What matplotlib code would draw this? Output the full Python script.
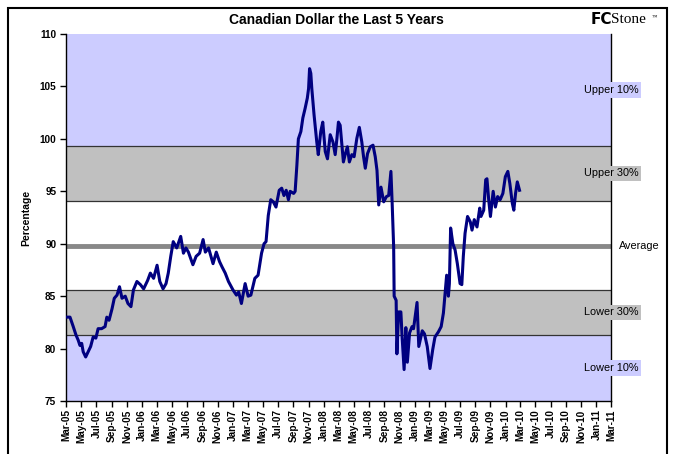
"""Canadian Dollar the Last 5 Years -- band chart with percentile zones."""

import matplotlib
matplotlib.use("Agg")
import matplotlib.pyplot as plt
import matplotlib.patches as patches
import matplotlib.dates as mdates
import pandas as pd

plt.rcParams["font.family"] = ["Liberation Sans", "DejaVu Sans"]

# ---- Data ----
DATES = [
    "2005-03-06", "2005-03-17", "2005-03-30", "2005-04-10", "2005-04-19", "2005-04-26",
    "2005-05-03", "2005-05-09", "2005-05-19", "2005-05-29", "2005-06-08", "2005-06-18",
    "2005-06-29", "2005-07-08", "2005-07-22", "2005-08-05", "2005-08-12", "2005-08-21",
    "2005-09-02", "2005-09-11", "2005-09-22", "2005-10-02", "2005-10-12", "2005-10-25",
    "2005-11-05", "2005-11-17", "2005-11-27", "2005-12-11", "2005-12-25", "2006-01-07",
    "2006-01-23", "2006-02-03", "2006-02-16", "2006-03-02", "2006-03-13", "2006-03-26",
    "2006-04-07", "2006-04-16", "2006-04-26", "2006-05-06", "2006-05-20", "2006-06-05",
    "2006-06-16", "2006-06-26", "2006-07-06", "2006-07-24", "2006-08-06", "2006-08-20",
    "2006-09-03", "2006-09-12", "2006-09-25", "2006-10-13", "2006-10-26", "2006-11-08",
    "2006-11-18", "2006-12-01", "2006-12-14", "2007-01-01", "2007-01-15", "2007-01-24",
    "2007-02-04", "2007-02-19", "2007-03-03", "2007-03-14", "2007-03-30", "2007-04-12",
    "2007-04-26", "2007-05-06", "2007-05-14", "2007-05-23", "2007-06-02", "2007-06-12",
    "2007-06-23", "2007-07-06", "2007-07-16", "2007-07-25", "2007-08-03", "2007-08-12",
    "2007-08-19", "2007-09-02", "2007-09-08", "2007-09-15", "2007-09-21", "2007-10-01",
    "2007-10-09", "2007-10-18", "2007-10-27", "2007-11-01", "2007-11-05", "2007-11-10",
    "2007-11-14", "2007-11-23", "2007-12-04", "2007-12-10", "2007-12-20", "2007-12-28",
    "2008-01-07", "2008-01-16", "2008-01-27", "2008-02-07", "2008-02-16", "2008-02-23",
    "2008-02-29", "2008-03-07", "2008-03-13", "2008-03-20", "2008-03-27", "2008-04-05",
    "2008-04-13", "2008-04-23", "2008-05-02", "2008-05-13", "2008-05-23", "2008-06-02",
    "2008-06-09", "2008-06-16", "2008-06-25", "2008-07-06", "2008-07-17", "2008-07-26",
    "2008-08-02", "2008-08-09", "2008-08-18", "2008-08-29", "2008-09-09", "2008-09-18",
    "2008-09-27", "2008-10-02", "2008-10-08", "2008-10-10", "2008-10-18", "2008-10-21",
    "2008-10-28", "2008-11-06", "2008-11-11", "2008-11-19", "2008-11-26", "2008-12-02",
    "2008-12-11", "2008-12-21", "2008-12-27", "2009-01-10", "2009-01-17", "2009-01-31",
    "2009-02-09", "2009-02-20", "2009-03-03", "2009-03-14", "2009-03-23", "2009-04-06",
    "2009-04-17", "2009-04-26", "2009-05-03", "2009-05-09", "2009-05-16", "2009-05-20",
    "2009-05-25", "2009-06-03", "2009-06-12", "2009-06-21", "2009-07-02", "2009-07-09",
    "2009-07-15", "2009-07-22", "2009-08-01", "2009-08-12", "2009-08-19", "2009-08-28",
    "2009-09-08", "2009-09-19", "2009-09-24", "2009-10-05", "2009-10-13", "2009-10-18",
    "2009-10-25", "2009-11-01", "2009-11-12", "2009-11-21", "2009-11-30", "2009-12-10",
    "2009-12-21", "2009-12-31", "2010-01-10", "2010-01-18", "2010-01-28", "2010-02-03",
    "2010-02-10", "2010-02-17", "2010-02-26",
]
CAD = [
    83.0, 83.0, 82.1, 81.3, 80.8, 80.3,
    80.5, 79.7, 79.2, 79.7, 80.2, 81.1,
    81.0, 81.9, 81.9, 82.1, 83.0, 82.7,
    83.8, 84.8, 85.1, 85.9, 84.8, 85.0,
    84.3, 84.0, 85.6, 86.4, 86.1, 85.7,
    86.5, 87.2, 86.7, 87.95, 86.4, 85.7,
    86.2, 87.2, 88.8, 90.2, 89.6, 90.7,
    89.1, 89.6, 89.2, 88.0, 88.8, 89.1,
    90.4, 89.2, 89.6, 88.1, 89.2, 88.3,
    87.8, 87.2, 86.4, 85.6, 85.1, 85.4,
    84.3, 86.2, 85.0, 85.1, 86.7, 87.0,
    89.1, 90.0, 90.2, 92.7, 94.2, 94.0,
    93.5, 95.1, 95.3, 94.6, 95.1, 94.2,
    95.0, 94.8, 95.0, 97.5, 100.0, 100.7,
    102.0, 102.9, 103.9, 104.8, 106.7, 106.25,
    104.8, 102.3, 99.7, 98.5, 100.7, 101.6,
    98.8, 98.1, 100.4, 99.7, 98.5, 100.05,
    101.6, 101.3, 99.7, 97.8, 98.5, 99.25,
    97.8, 98.5, 98.3, 100.05, 101.1, 99.7,
    98.3, 97.2, 98.6, 99.25, 99.4, 98.3,
    97.0, 93.7, 95.4, 94.0, 94.5, 94.6,
    96.9, 93.85, 89.7, 85.0, 84.6, 79.5,
    83.5, 83.5, 81.1, 78.0, 82.0, 78.7,
    81.5, 82.1, 81.9, 84.4, 80.2, 81.7,
    81.4, 80.2, 78.1, 79.9, 81.1, 81.6,
    82.1, 83.4, 85.3, 87.0, 85.0, 86.2,
    91.5, 90.0, 89.4, 88.1, 86.2, 86.1,
    88.8, 91.0, 92.6, 92.1, 91.3, 92.3,
    91.6, 93.4, 92.6, 93.2, 96.1, 96.2,
    94.2, 92.6, 95.0, 93.5, 94.5, 94.2,
    94.8, 96.4, 96.9, 95.75, 93.85, 93.2,
    94.8, 95.9, 95.1,
]

# Percentile zones (upper 10 / upper 30 / average / lower 30 / lower 10)
UPPER10 = 99.3
UPPER30 = 94.1
AVERAGE = 89.8
LOWER30 = 85.6
LOWER10 = 81.3
ZONE_LABELS = ["Upper 10%", "Upper 30%", "Lower 30%", "Lower 10%"]

COL_LAV = "#CCCCFF"
COL_GRAY = "#C0C0C0"
COL_LINE = "#000080"

Y_MIN, Y_MAX = 75, 110
X_START, X_END = "2005-03-01", "2011-03-01"


def main():
    dates = pd.to_datetime(DATES)

    fig = plt.figure(figsize=(6.73, 4.54), dpi=100)
    ax = fig.add_axes([0.0981, 0.1167, 0.8099, 0.8083])

    x0, x1 = pd.Timestamp(X_START), pd.Timestamp(X_END)
    ax.set_xlim(x0, x1)
    ax.set_ylim(Y_MIN, Y_MAX)

    # ---- zones ----
    ax.axhspan(UPPER10, Y_MAX, color=COL_LAV, lw=0, zorder=0)
    ax.axhspan(UPPER30, UPPER10, color=COL_GRAY, lw=0, zorder=0)
    ax.axhspan(LOWER30, UPPER30, color="white", lw=0, zorder=0)
    ax.axhspan(LOWER10, LOWER30, color=COL_GRAY, lw=0, zorder=0)
    ax.axhspan(Y_MIN, LOWER10, color=COL_LAV, lw=0, zorder=0)
    for yb in (UPPER10, UPPER30, LOWER30, LOWER10):
        ax.axhline(yb, color="#333333", lw=0.9, zorder=1)
    ax.axhline(AVERAGE, color="#888888", lw=3.5, zorder=1)

    # ---- series ----
    ax.plot(dates, CAD, color=COL_LINE, lw=2.2, zorder=3,
            solid_joinstyle="round")

    # ---- zone labels on the right edge ----
    label_y = [(UPPER10 + Y_MAX) / 2, (UPPER30 + UPPER10) / 2,
               (LOWER10 + LOWER30) / 2, (Y_MIN + LOWER10) / 2]
    label_bg = [COL_LAV, COL_GRAY, COL_GRAY, COL_LAV]
    trans = ax.get_yaxis_transform()
    for txt, yv, bg in zip(ZONE_LABELS, label_y, label_bg):
        ax.text(1.0, yv, txt, transform=trans, ha="center", va="center",
                fontsize=7.8, clip_on=False, zorder=5,
                bbox=dict(boxstyle="square,pad=0.25", fc=bg, ec="none"))
    ax.text(1.052, AVERAGE, "Average", transform=trans, ha="center",
            va="center", fontsize=7.8, clip_on=False, zorder=5)

    # ---- axes styling ----
    ax.spines["top"].set_visible(False)
    for side in ("left", "bottom", "right"):
        ax.spines[side].set_linewidth(1.0)
    ax.set_yticks(range(Y_MIN, Y_MAX + 1, 5))
    ax.tick_params(axis="y", direction="out", length=4, width=1,
                   labelsize=7.2, pad=3)
    for lab in ax.get_yticklabels():
        lab.set_fontweight("bold")

    ax.xaxis.set_major_locator(mdates.MonthLocator(bymonth=[1, 3, 5, 7, 9, 11]))
    ax.xaxis.set_major_formatter(mdates.DateFormatter("%b-%y"))
    ax.tick_params(axis="x", direction="out", length=4, width=1,
                   labelsize=7.2, pad=2, labelrotation=90)
    for lab in ax.get_xticklabels():
        lab.set_fontweight("bold")

    ax.set_ylabel("Percentage", fontsize=7.5, fontweight="bold", labelpad=6)

    # ---- title and logo ----
    fig.text(0.5, 0.955, "Canadian Dollar the Last 5 Years", ha="center",
             va="center", fontsize=10, fontweight="bold")
    fig.text(0.878, 0.958, "FC", ha="left", va="center", fontsize=11,
             fontweight="bold", family=["DejaVu Sans"])
    fig.text(0.908, 0.958, "Stone", ha="left", va="center", fontsize=11,
             family=["Liberation Serif", "DejaVu Serif"])
    fig.text(0.968, 0.962, "™", ha="left", va="center", fontsize=4,
             family=["Liberation Serif", "DejaVu Serif"])

    # outer frame
    fig.add_artist(patches.Rectangle(
        (8 / 673, -0.05), (667 - 8) / 673, 1.05 - 8 / 454,
        transform=fig.transFigure, fill=False, ec="black", lw=1.5))

    fig.savefig("out.png", dpi=100)
    plt.close(fig)


if __name__ == "__main__":
    main()
